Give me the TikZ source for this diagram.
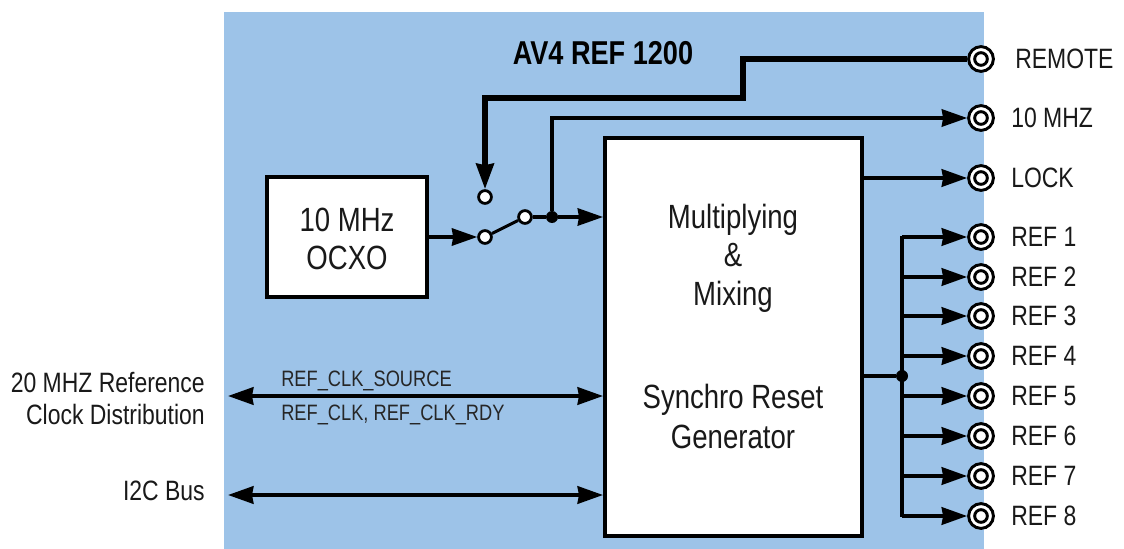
\documentclass[tikz,border=0pt]{standalone}
\usepackage{fontspec}
\setmainfont[FakeStretch=0.82]{Liberation Sans}
\usetikzlibrary{arrows.meta}
\definecolor{panel}{RGB}{157,195,232}
\tikzset{
  x=0.75pt,y=-0.75pt,
  wire/.style={draw=black,line width=2.9pt,line join=miter},
  thinwire/.style={draw=black,line width=2.3pt,line join=miter},
  heavywire/.style={draw=black,line width=4.1pt,line join=miter},
  tip/.style={-{Stealth[length=19pt,width=13pt,inset=1pt]}},
  bitip/.style={{Stealth[length=19pt,width=13pt,inset=1pt]}-{Stealth[length=19pt,width=13pt,inset=1pt]}},
  blockbox/.style={draw=black,fill=white,line width=3pt,inner sep=0pt},
  pin/.style={circle,draw=black,fill=white,line width=2.1pt,minimum size=9.6pt,inner sep=0pt},
  dotj/.style={circle,fill=black,minimum size=9pt,inner sep=0pt},
  jack/.style={circle,draw=black,fill=white,line width=2.2pt,minimum size=18.6pt,inner sep=0pt},
  jackin/.style={circle,draw=black,fill=white,line width=2.2pt,minimum size=9.5pt,inner sep=0pt},
  big/.style={font=\fontsize{25.2}{28.5}\selectfont,text=black!90,inner sep=0pt},
  lab/.style={font=\fontsize{21}{24}\selectfont,text=black!90,inner sep=0pt},
  sig/.style={font=\fontsize{16.7}{19}\selectfont,text=black!85,inner sep=0pt,anchor=west},
}
\begin{document}
\begin{tikzpicture}
\useasboundingbox (0,0) rectangle (1124,549);
\fill[panel] (224,12) rectangle (984,549);
\node[font=\bfseries\fontsize{24.8}{26}\selectfont,inner sep=0pt] (title) at (603,53) {AV4 REF 1200};
\node[blockbox,minimum width=160*0.75pt,minimum height=120*0.75pt,align=center] (ocxo) at (347,237) {};
\node[big,align=center] (ocxot) at (347,239) {10 MHz\\OCXO};
\node[blockbox,minimum width=257*0.75pt,minimum height=397*0.75pt] (main) at (733.5,337) {};
\node[big] (t1) at (733,220) {Multiplying};
\node[big] (t2) at (733,255) {\&};
\node[big] (t3) at (733,297) {Mixing};
\node[big] (t4) at (733,400) {Synchro Reset};
\node[big] (t5) at (733,437) {Generator};
% connectors
\foreach \n/\y/\t/\tx in {remote/59/REMOTE/1015,mhz/118/10 MHZ/1011,lock/178/LOCK/1011,r1/237/REF 1/1011,r2/277/REF 2/1011,r3/316/REF 3/1011,r4/356/REF 4/1011,r5/396/REF 5/1011,r6/436/REF 6/1011,r7/476/REF 7/1011,r8/516/REF 8/1011}{
  \node[jack] (\n) at (981,\y) {};
  \node[jackin] (\n i) at (981,\y) {};
  \node[lab,anchor=west] (\n t) at (\tx,\y) {\t};
}
% switch
\node[pin] (sa) at (485,197) {};
\node[pin] (sb) at (485,237) {};
\node[pin] (sc) at (525,217) {};
\node[dotj] (j1) at (552,217) {};
\draw[thinwire,tip] (ocxo.east |- sb) -- (sb);
\draw[thinwire] (sb) -- (sc);
\draw[thinwire] (sc) -- (j1);
\draw[thinwire,tip] (j1) -- (main.west |- j1);
\coordinate (c1) at (552,118);
\draw[thinwire,tip] (j1) -- (c1) -- (mhz);
\coordinate (c2) at (743,59);
\coordinate (c3) at (743,98);
\coordinate (c4) at (485,98);
\draw[heavywire,tip] (remote) -- (c2) -- (c3) -- (c4) -- (sa);
\draw[wire,tip] (main.east |- lock) -- (lock);
% ref bus
\node[dotj] (j2) at (902,376) {};
\draw[thinwire] (main.east |- j2) -- (j2);
\coordinate (b1) at (902,237);
\coordinate (b8) at (902,516);
\draw[wire] ([yshift=1pt]b1) -- ([yshift=-1pt]b8);
\foreach \n in {r1,r2,r3,r4,r5,r6,r7,r8}{
  \draw[wire,tip] (b1 |- \n) -- (\n);
}
% left
\coordinate (l1) at (228,396);
\coordinate (l2) at (228,495);
\draw[wire,bitip] (l1) -- (main.west |- l1);
\draw[wire,bitip] (l2) -- (main.west |- l2);
\node[sig] (s1) at (281,381) {REF\_CLK\_SOURCE};
\node[sig] (s2) at (281,415) {REF\_CLK, REF\_CLK\_RDY};
\node[lab,anchor=east] (e1) at (205,383) {20 MHZ Reference};
\node[lab,anchor=east] (e2) at (205,414) {Clock Distribution};
\node[lab,anchor=east] (e3) at (205,491) {I2C Bus};
\end{tikzpicture}
\end{document}
